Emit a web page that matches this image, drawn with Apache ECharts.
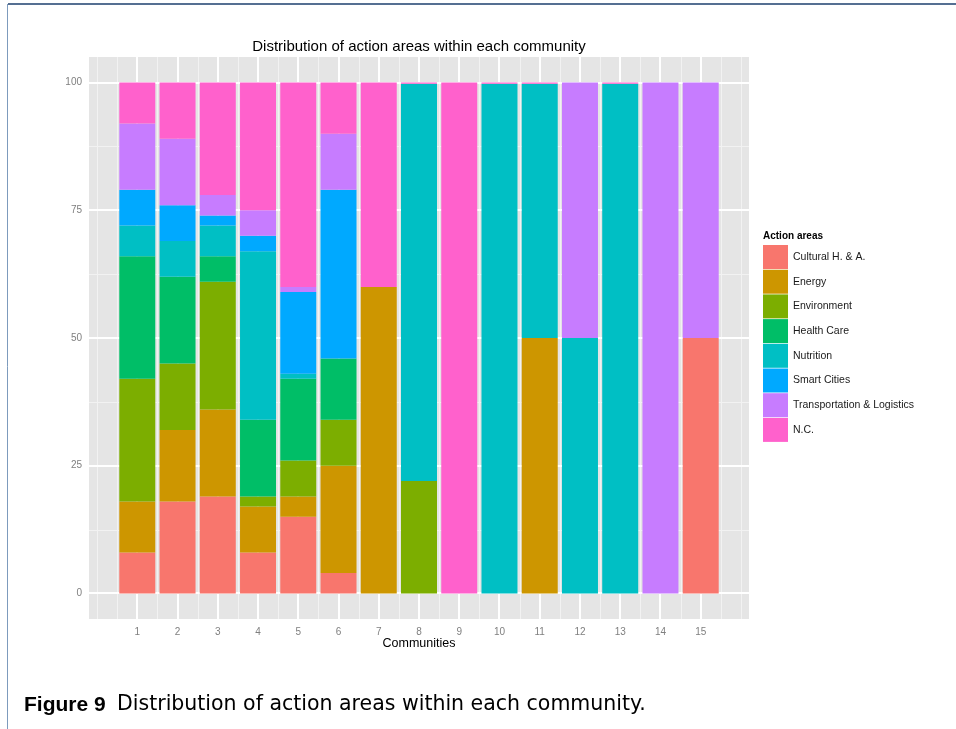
<!DOCTYPE html>
<html>
<head>
<meta charset="utf-8">
<script src="https://cdn.jsdelivr.net/npm/echarts@6/dist/echarts.min.js"></script>
<style>
  html, body { margin: 0; padding: 0; background: #ffffff; }
  #chart { width: 956px; height: 729px; }
</style>
</head>
<body>
<div id="chart"></div>
<script>
// ---- data ----
const communities = [1, 2, 3, 4, 5, 6, 7, 8, 9, 10, 11, 12, 13, 14, 15];
const areaNames = ['Cultural H. & A.', 'Energy', 'Environment', 'Health Care', 'Nutrition', 'Smart Cities', 'Transportation & Logistics', 'N.C.'];
const cultural    = [8, 18, 19, 8, 15, 4, 0, 0, 0, 0, 0, 0, 0, 0, 50];
const energy      = [10, 14, 17, 9, 4, 21, 60, 0, 0, 0, 50, 0, 0, 0, 0];
const environment = [24, 13, 25, 2, 7, 9, 0, 22, 0, 0, 0, 0, 0, 0, 0];
const healthCare  = [24, 17, 5, 15, 16, 12, 0, 0, 0, 0, 0, 0, 0, 0, 0];
const nutrition   = [6, 7, 6, 33, 1, 0, 0, 77.75, 0, 99.75, 49.75, 50, 99.75, 0, 0];
const smartCities = [7, 7, 2, 3, 16, 33, 0, 0, 0, 0, 0, 0, 0, 0, 0];
const transport   = [13, 13, 4, 5, 1, 11, 0, 0, 0, 0, 0, 50, 0, 100, 50];
const notClass    = [8, 11, 22, 25, 40, 10, 40, 0.25, 100, 0.25, 0.25, 0, 0.25, 0, 0];
const yTicks = [0, 25, 50, 75, 100];

const areaValues = [cultural, energy, environment, healthCare, nutrition, smartCities, transport, notClass];
const colors = ['#F8766D', '#CD9600', '#7CAE00', '#00BE67', '#00BFC4', '#00A9FF', '#C77CFF', '#FF61CC'];

// ---- grid lines (panel decoration) ----
const X_MIN = -0.2, X_MAX = 16.2, Y_MIN = -5, Y_MAX = 105;
const gridLines = [];
for (let v = 0; v <= 16; v += 0.5) {
  const major = (Number.isInteger(v) && v >= 1 && v <= 15) ? 1 : 0;
  gridLines.push([v, 0, major]);
}
for (let v = 0; v <= 100; v += 12.5) {
  gridLines.push([v, 1, (v % 25 === 0) ? 1 : 0]);
}

const FONT = 'Liberation Sans, Arial, Helvetica, sans-serif';

// value first, community second, so the stacked dimension is the value
const barSeries = areaNames.map((name, i) => ({
  name: name,
  type: 'bar',
  stack: 'total',
  barWidth: 36,
  z: 3,
  encode: { x: 1, y: 0 },
  data: communities.map((c, j) => [areaValues[i][j], c]),
  itemStyle: { color: colors[i] },
  emphasis: { disabled: true }
}));

const chart = echarts.init(document.getElementById('chart'), null, { renderer: 'canvas' });

chart.setOption({
  animation: false,
  backgroundColor: '#ffffff',
  grid: {
    left: 89, top: 57, width: 660, height: 562,
    show: true, backgroundColor: '#E5E5E5', borderWidth: 0
  },
  xAxis: {
    type: 'value', min: X_MIN, max: X_MAX,
    name: 'Communities', nameLocation: 'middle', nameGap: 18, nameMoveOverlap: false,
    nameTextStyle: { color: '#000000', fontSize: 12.5, fontFamily: FONT, verticalAlign: 'top' },
    axisLine: { show: false },
    axisTick: { show: true, length: 4, lineStyle: { color: '#7F7F7F', width: 1 }, customValues: communities },
    axisLabel: { color: '#7F7F7F', fontSize: 10, fontFamily: FONT, margin: 8, customValues: communities },
    splitLine: { show: false }
  },
  yAxis: {
    type: 'value', min: Y_MIN, max: Y_MAX,
    axisLine: { show: false },
    axisTick: { show: true, length: 4, lineStyle: { color: '#7F7F7F', width: 1 }, customValues: yTicks },
    axisLabel: { color: '#7F7F7F', fontSize: 10, fontFamily: FONT, margin: 7, customValues: yTicks },
    splitLine: { show: false }
  },
  legend: {
    orient: 'vertical', left: 763, top: 245,
    itemWidth: 25, itemHeight: 24, itemGap: 0.7,
    icon: 'rect', selectedMode: false,
    data: areaNames,
    textStyle: { color: '#1a1a1a', fontSize: 10.5, fontFamily: FONT },
    padding: 0
  },
  graphic: [
    { type: 'line', shape: { x1: 8, y1: 4, x2: 956, y2: 4 }, style: { stroke: '#1c3f6e', lineWidth: 1.5 } },
    { type: 'line', shape: { x1: 7.5, y1: 4, x2: 7.5, y2: 729 }, style: { stroke: '#7d9bbd', lineWidth: 1 } },
    { type: 'text', left: 763, top: 231, style: { text: 'Action areas', fill: '#000000', font: 'bold 10px ' + FONT } },
    { type: 'text', x: 419, y: 47, style: { text: 'Distribution of action areas within each community', fill: '#000000', font: '15px ' + FONT, textAlign: 'center', textVerticalAlign: 'middle' } },
    { type: 'text', x: 24, y: 705, style: { text: 'Figure 9', fill: '#000000', font: 'bold 21px ' + FONT, textVerticalAlign: 'middle' } },
    { type: 'text', x: 117, y: 705, style: { text: 'Distribution of action areas within each community.', fill: '#000000', font: '20.5px DejaVu Sans, ' + FONT, textVerticalAlign: 'middle' } }
  ],
  series: [
    {
      type: 'custom',
      name: 'gridlines',
      z: 1,
      silent: true,
      clip: false,
      data: gridLines,
      renderItem: function (params, api) {
        const v = api.value(0), dir = api.value(1), major = api.value(2);
        let p1, p2;
        if (dir === 0) { p1 = api.coord([v, Y_MIN]); p2 = api.coord([v, Y_MAX]); }
        else { p1 = api.coord([X_MIN, v]); p2 = api.coord([X_MAX, v]); }
        const w = major ? 2 : 1;
        if (dir === 0) { const x = w === 1 ? Math.round(p1[0]) + 0.5 : Math.round(p1[0]); p1[0] = x; p2[0] = x; }
        else { const y = w === 1 ? Math.round(p1[1]) + 0.5 : Math.round(p1[1]); p1[1] = y; p2[1] = y; }
        return {
          type: 'line',
          shape: { x1: p1[0], y1: p1[1], x2: p2[0], y2: p2[1] },
          style: { stroke: major ? '#FFFFFF' : '#F2F2F2', lineWidth: w }
        };
      }
    }
  ].concat(barSeries)
});
</script>
</body>
</html>
